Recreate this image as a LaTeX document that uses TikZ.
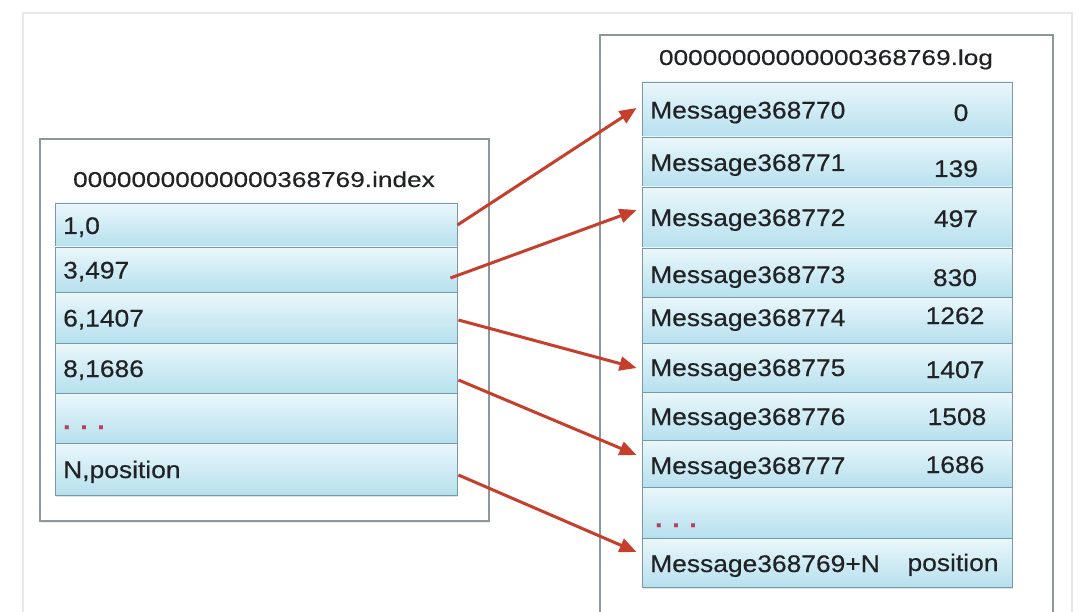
\documentclass[tikz,border=0pt]{standalone}
\usepackage{fontspec}
\setmainfont{Liberation Sans}[FakeStretch=1.1,FakeBold=0.35]
\newfontfamily\titlefont{Liberation Sans}[FakeStretch=1.22,FakeBold=0.25]
\usetikzlibrary{arrows.meta,calc,shadows}
\definecolor{rowtop}{HTML}{EAF7FB}
\definecolor{rowbot}{HTML}{B6E0EE}
\definecolor{rowline}{HTML}{7A99A5}
\definecolor{framec}{HTML}{8E979B}
\definecolor{outerc}{HTML}{E6E8E9}
\definecolor{arrowc}{HTML}{C63F2D}
\definecolor{txt}{HTML}{202224}
\definecolor{dotc}{HTML}{B8405A}
\begin{document}
\begin{tikzpicture}[x=1pt,y=-1pt,
  rowbox/.style={draw=rowline, line width=0.9pt, top color=rowtop, bottom color=rowbot,
    inner sep=0pt, anchor=center,
    drop shadow={opacity=0.22, shadow xshift=0.8pt, shadow yshift=-2pt}},
  irow/.style={rowbox, minimum width=402pt},
  lrow/.style={rowbox, minimum width=370pt},
  frame/.style={draw=framec, line width=1.4pt, fill=white},
  rowtext/.style={inner sep=0pt, anchor=base west, text=txt, font=\fontsize{24}{28}\selectfont},
  numtext/.style={inner sep=0pt, anchor=base, text=txt, font=\fontsize{24}{28}\selectfont},
  titletext/.style={inner sep=0pt, anchor=base, text=txt, font=\titlefont\fontsize{21.5}{26}\selectfont},
  dots/.style={inner sep=0pt, anchor=base west, text=dotc, font=\bfseries\fontsize{24}{28}\selectfont},
  link/.style={draw=arrowc, line width=3pt, -{Triangle[length=17pt,width=14pt]}}
]
\useasboundingbox (0,0) rectangle (1086,612);
\clip (0,0) rectangle (1086,612);
\fill[white] (0,0) rectangle (1086,612);
\draw[outerc, line width=1.2pt] (23,13) rectangle (1072,640);

% index file
\draw[frame, drop shadow={opacity=0.15, shadow xshift=1pt, shadow yshift=-2pt}] (40,139) rectangle (489,521);
\node[titletext] (ititle) at (254,187) {00000000000000368769.index};
\node[irow, minimum height=44pt] (i1) at (256,225) {};
\node[irow, minimum height=45pt] (i2) at (256,269.5) {};
\node[irow, minimum height=51pt] (i3) at (256,317.5) {};
\node[irow, minimum height=50pt] (i4) at (256,368) {};
\node[irow, minimum height=50pt] (i5) at (256,418) {};
\node[irow, minimum height=52pt] (i6) at (256,469) {};
\node[rowtext] (t1) at (63,234) {1,0};
\node[rowtext] (t2) at (63,278.5) {3,497};
\node[rowtext] (t3) at (63,326.5) {6,1407};
\node[rowtext] (t4) at (63,377) {8,1686};
\node[dots] (t5) at (63,429) {. . .};
\node[rowtext] (t6) at (63,478) {N,position};

% log file
\draw[frame, drop shadow={opacity=0.15, shadow xshift=1pt, shadow yshift=-2pt}] (600,35) rectangle (1053,640);
\node[titletext] (ltitle) at (826,65) {00000000000000368769.log};
\node[lrow, minimum height=55pt] (l1) at (827,109.5) {};
\node[lrow, minimum height=50pt] (l2) at (827,162) {};
\node[lrow, minimum height=61pt] (l3) at (827,217.5) {};
\node[lrow, minimum height=49pt] (l4) at (827,272.5) {};
\node[lrow, minimum height=46pt] (l5) at (827,320) {};
\node[lrow, minimum height=49pt] (l6) at (827,367.5) {};
\node[lrow, minimum height=48pt] (l7) at (827,416) {};
\node[lrow, minimum height=47pt] (l8) at (827,463.5) {};
\node[lrow, minimum height=51pt] (l9) at (827,512.5) {};
\node[lrow, minimum height=49pt] (l10) at (827,562.5) {};

\node[rowtext] (m1) at (650,118.5) {Message368770};
\node[rowtext] (m2) at (650,171) {Message368771};
\node[rowtext] (m3) at (650,226) {Message368772};
\node[rowtext] (m4) at (650,283) {Message368773};
\node[rowtext] (m5) at (650,326) {Message368774};
\node[rowtext] (m6) at (650,376) {Message368775};
\node[rowtext] (m7) at (650,425) {Message368776};
\node[rowtext] (m8) at (650,474) {Message368777};
\node[dots] (m9) at (655,527) {. . .};
\node[rowtext] (m10) at (650,572) {Message368769+N};

\node[numtext] (n1) at (961,121) {0};
\node[numtext] (n2) at (956,177) {139};
\node[numtext] (n3) at (956,227) {497};
\node[numtext] (n4) at (955,286) {830};
\node[numtext] (n5) at (955,324) {1262};
\node[numtext] (n6) at (955,378) {1407};
\node[numtext] (n7) at (957,425) {1508};
\node[numtext] (n8) at (955,473) {1686};
\node[numtext] (n10) at (953,571) {position};

% arrows
\draw[link] (i1.east) -- ($(l1.west)+(-5,-1.5)$);
\draw[link] ($(i2.east)+(-7,8.5)$) -- ($(l3.west)+(-5,-7.5)$);
\draw[link] ($(i3.east)+(1,2.5)$) -- ($(l6.west)+(-5,0.5)$);
\draw[link] ($(i4.east)+(1,12)$) -- ($(l8.west)+(-5,-8.5)$);
\draw[link] ($(i6.east)+(1,6)$) -- ($(l10.west)+(-5,-10.5)$);
\end{tikzpicture}
\end{document}
